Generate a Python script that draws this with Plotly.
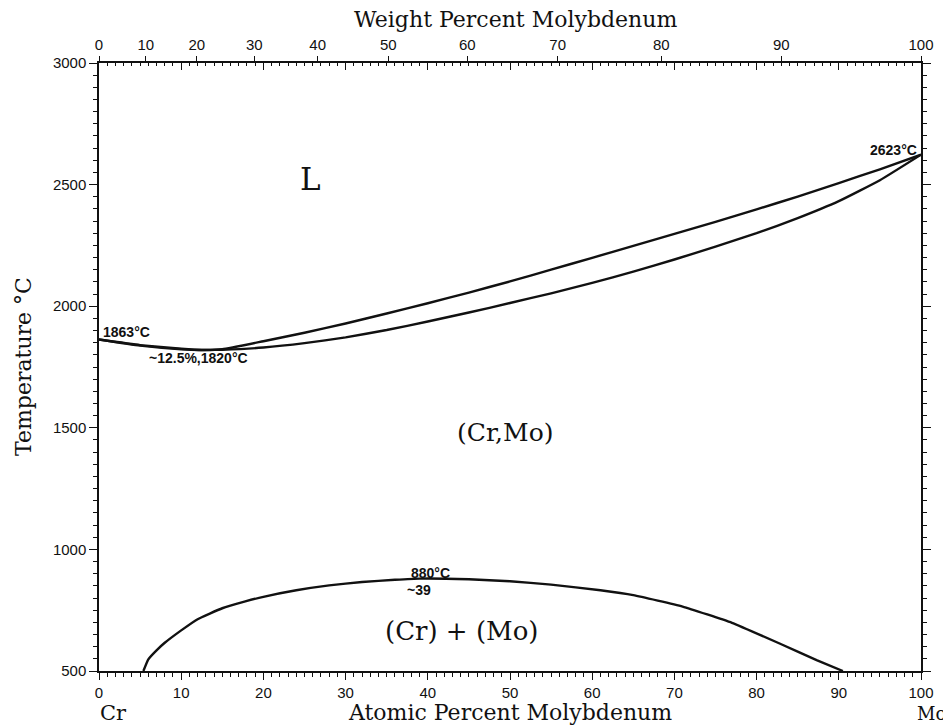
import plotly.graph_objects as go

# Liquidus (upper) and solidus (lower), atomic % Mo vs temperature (°C)
liq_x = [0, 5, 10, 12.5, 15, 20, 25, 30, 35, 40, 45, 50, 55, 60, 65, 70, 75, 80, 85, 90, 95, 100]
liq_t = [1863, 1840, 1825, 1820, 1823, 1856, 1891, 1929, 1970, 2012, 2056, 2102, 2150, 2199,
         2248, 2297, 2347, 2398, 2451, 2506, 2563, 2623]
sol_x = [0, 5, 10, 12.5, 15, 20, 25, 30, 35, 40, 45, 50, 55, 60, 65, 70, 75, 80, 85, 90, 95, 100]
sol_t = [1863, 1838, 1823, 1820, 1821, 1830, 1848, 1872, 1902, 1937, 1974, 2013, 2053, 2096,
         2142, 2192, 2245, 2300, 2362, 2432, 2518, 2623]

# Miscibility gap (Cr) + (Mo)
gap_x = [5.4, 6, 7, 8, 10, 12, 15, 17.8, 20, 24, 28, 32, 36, 39, 45, 50, 55, 61, 65, 71,
         77, 83, 87.3, 90.5]
gap_t = [500, 548, 585, 616, 667, 713, 758, 786, 805, 832, 852, 866, 875, 880, 877, 869, 855,
         832, 812, 765, 698, 610, 545, 500]

# Top axis: weight percent tick labels and their atomic-percent positions
wt_labels = ["0", "10", "20", "30", "40", "50", "60", "70", "80", "90", "100"]
wt_pos_at = [0, 5.7, 11.9, 18.9, 26.6, 35.2, 44.8, 55.8, 68.4, 83.0, 100]

SERIF = "DejaVu Serif"
SANS = "Liberation Sans"
BLACK = "#111111"

fig = go.Figure()
for xs, ts in [(liq_x, liq_t), (sol_x, sol_t), (gap_x, gap_t)]:
    fig.add_trace(go.Scatter(x=xs, y=ts, mode="lines",
                             line=dict(color=BLACK, width=2.4, shape="spline", smoothing=0.4),
                             showlegend=False, hoverinfo="skip"))

axis_common = dict(showline=True, linecolor=BLACK, linewidth=1.5, showgrid=False, zeroline=False,
                   tickcolor=BLACK, tickwidth=1.2)

# page body has a small margin, so the figure is sized/offset to compensate
fig.update_layout(
    width=943, height=719,
    paper_bgcolor="white", plot_bgcolor="white",
    margin=dict(l=91, r=30, t=55, b=56),
    showlegend=False,
    xaxis=dict(range=[0, 100], tickvals=list(range(0, 101, 10)), ticks="outside", ticklen=7,
               minor=dict(dtick=1, ticks="outside", ticklen=4, tickcolor=BLACK, tickwidth=1),
               tickfont=dict(family=SANS, size=15, color=BLACK), **axis_common),
    xaxis2=dict(range=[0, 100], overlaying="x", side="top", tickvals=wt_pos_at, ticktext=wt_labels,
                ticks="outside", ticklen=5, tickfont=dict(family=SANS, size=15, color=BLACK),
                **axis_common),
    xaxis3=dict(range=[0, 100], overlaying="x", side="top", tickvals=list(range(0, 101, 10)),
                ticks="inside", ticklen=7, showticklabels=False,
                minor=dict(dtick=1, ticks="inside", ticklen=3, tickcolor=BLACK, tickwidth=1),
                **axis_common),
    yaxis=dict(range=[500, 3000], tickvals=[500, 1000, 1500, 2000, 2500, 3000], ticks="outside",
               ticklen=8, minor=dict(dtick=50, ticks="outside", ticklen=4, tickcolor=BLACK, tickwidth=1),
               tickfont=dict(family=SANS, size=15, color=BLACK), **axis_common),
    yaxis2=dict(range=[500, 3000], overlaying="y", side="right", tickvals=[500, 1000, 1500, 2000, 2500, 3000],
                ticks="outside", ticklen=8, showticklabels=False,
                minor=dict(dtick=50, ticks="outside", ticklen=4, tickcolor=BLACK, tickwidth=1),
                **axis_common),
)

# Empty traces so the overlay axes are drawn
fig.add_trace(go.Scatter(x=[None], y=[None], xaxis="x2", yaxis="y", showlegend=False))
fig.add_trace(go.Scatter(x=[None], y=[None], xaxis="x3", yaxis="y2", showlegend=False))

ann = []
def txt(x, y, s, size, family, xanchor="center", bold=False):
    ann.append(dict(x=x, y=y, text=f"<b>{s}</b>" if bold else s, showarrow=False, xref="x", yref="y",
                    xanchor=xanchor, yanchor="middle",
                    font=dict(family=family, size=size, color=BLACK)))

def ptxt(x, y, s, xshift=0, yshift=0, angle=0, xanchor="center", size=22):
    ann.append(dict(x=x, y=y, xref="paper", yref="paper", xshift=xshift, yshift=yshift, text=s,
                    showarrow=False, xanchor=xanchor, yanchor="middle", textangle=angle,
                    font=dict(family=SERIF, size=size, color=BLACK)))

# axis titles
ptxt(0.507, 1, "Weight Percent Molybdenum", yshift=44)
ptxt(0.5, 0, "Atomic Percent Molybdenum", yshift=-41)
ptxt(0, 0.5, "Temperature °C", xshift=-76, angle=-90)
ptxt(0, 0, "Cr", xshift=14, yshift=-42, size=21)
ptxt(1, 0, "Mo", xshift=27, yshift=-42, xanchor="right", size=18)

# phase labels
txt(25.7, 2524, "L", 31, SERIF)
txt(49.4, 1481, "(Cr,Mo)", 25, SERIF)
txt(44.2, 664, "(Cr) + (Mo)", 26, SERIF)

# point labels
txt(0.2, 1893, "1863°C", 14, SANS, xanchor="left", bold=True)
txt(12.1, 1785, "~12.5%,1820°C", 14, SANS, bold=True)
txt(99.8, 2643, "2623°C", 14, SANS, xanchor="right", bold=True)
txt(40.3, 903, "880°C", 14, SANS, bold=True)
txt(38.9, 833, "~39", 14, SANS, bold=True)

fig.update_layout(annotations=ann)
fig.write_html("out.html")
